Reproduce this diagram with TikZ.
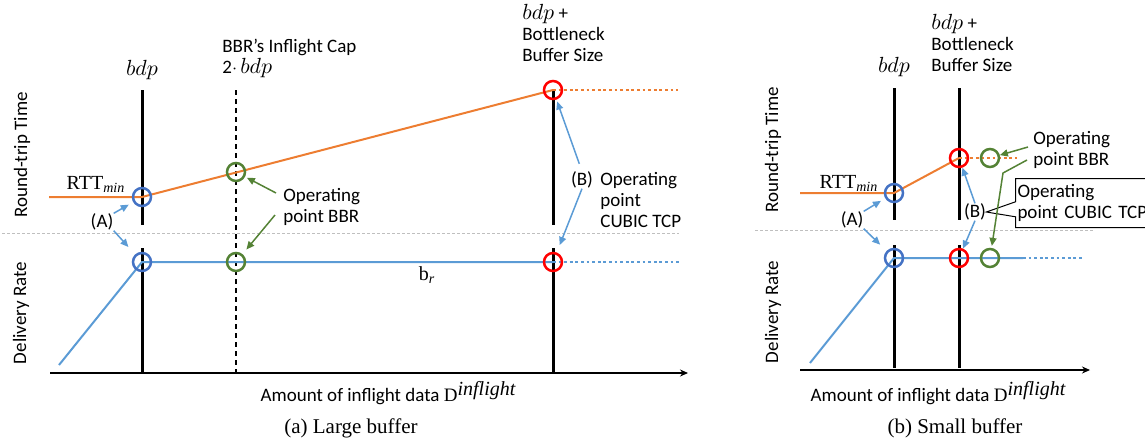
\documentclass[tikz,border=0pt]{standalone}
\usepackage{fontspec}
\setmainfont{Liberation Serif}
\setsansfont{Carlito}
\usetikzlibrary{arrows.meta,shapes.callouts}
\definecolor{rttorange}{HTML}{ED7D31}
\definecolor{rateblue}{HTML}{5B9BD5}
\definecolor{minblue}{HTML}{4472C4}
\definecolor{bbrgreen}{HTML}{548235}
\definecolor{cubicred}{HTML}{FF0000}
\definecolor{guidegray}{HTML}{BFBFBF}
\newcommand{\inflightD}{{\rmfamily D}\raisebox{.6ex}{\rmfamily\itshape\fontsize{10}{12}\selectfont inflight}}
\newcommand{\bdpsym}{{\fontsize{11}{12}\selectfont$bdp$}}
\tikzset{
  guideline/.style={guidegray,line width=0.5pt,dash pattern=on 1.5pt off 1pt},
  xaxis/.style={-{Stealth[length=4pt,width=3.5pt]},line width=0.6pt},
  levelline/.style={line width=1.5pt,black},
  capline/.style={line width=0.7pt,dash pattern=on 2.5pt off 2pt},
  plotline/.style={line width=1pt},
  plottail/.style={line width=1pt,dash pattern=on 1.4pt off 1.4pt},
  opcircle/.style={circle,draw=#1,line width=1.25pt,minimum size=9pt,inner sep=0pt},
  notearrow/.style={-{Triangle[length=4pt,width=3.5pt]},line width=0.75pt,draw=#1},
  lbl/.style={font=\sffamily\fontsize{9.5}{10.5}\selectfont,align=left,inner sep=0pt},
  mathlbl/.style={font=\fontsize{10}{12}\selectfont,inner sep=0pt},
  captiontext/.style={font=\fontsize{10.5}{12}\selectfont,inner sep=0pt}
}
\begin{document}
\begin{tikzpicture}[x=0.5pt,y=-0.5pt]
\useasboundingbox (0,0) rectangle (1145,445);

% (a) large buffer
\draw[guideline] (2,233) -- (679,233);
\draw[xaxis] (50,373) -- (688,373);
\foreach \x in {142,553}
  \draw[levelline] (\x,90) -- (\x,225) (\x,248) -- (\x,372);
\draw[capline] (236,90) -- (236,373);
\draw[plotline,rttorange] (49,197) -- (142,197) -- (553,90);
\draw[plottail,rttorange] (553,90) -- (678,90);
\draw[plotline,rateblue] (59,365) -- (142,262) -- (553,262);
\draw[plottail,rateblue] (553,262) -- (679,262);

\node[opcircle=minblue] (minA) at (142,197) {};
\node[opcircle=bbrgreen] (bbrA) at (236,172) {};
\node[opcircle=cubicred] (cubicA) at (553,90) {};
\node[opcircle=minblue] (fullA) at (142,262) {};
\node[opcircle=bbrgreen] (bbrrateA) at (236,262) {};
\node[opcircle=cubicred] (cubicrateA) at (553,262) {};

\node[lbl,rotate=90] (rttlabA) at (22,155) {Round-trip Time};
\node[lbl,rotate=90] (ratelabA) at (21,313) {Delivery Rate};
\node[mathlbl] (bdpA) at (142,70) {\bdpsym};
\node[lbl,anchor=west] (inflcapA) at (222,58) {BBR’s Inflight Cap\\2$\cdot$\,\bdpsym};
\node[lbl,anchor=west] (bufA) at (522,33) {\bdpsym{} +\\Bottleneck\\Buffer Size};
\node[mathlbl] (rttminA) at (96,184) {RTT$_{\mathit{min}}$};
\node[lbl] (labAA) at (102,222) {(A)};
\node[lbl,anchor=west] (opbbrA) at (283,207) {Operating\\point BBR};
\node[lbl] (labBA) at (582,180) {(B)};
\node[lbl,anchor=west] (opcubicA) at (600,200) {Operating\\point\\CUBIC TCP};
\node[mathlbl] (brA) at (427,275) {b$_{\mathit{r}}$};
\node[lbl] (xlabA) at (388,393) {Amount of inflight data \inflightD};
\node[captiontext] (capA) at (351,428) {(a) Large buffer};

\coordinate (gA1) at (276,193);
\coordinate (gA2) at (275,215);
\draw[notearrow=rateblue,shorten >=2.5pt] (labAA.north east) -- (minA);
\draw[notearrow=rateblue,shorten >=5pt] (labAA.south east) -- (fullA);
\draw[notearrow=bbrgreen,shorten >=1pt] (gA1) -- (bbrA);
\draw[notearrow=bbrgreen,shorten >=3pt] (gA2) -- (bbrrateA);
\draw[notearrow=rateblue,shorten <=4pt,shorten >=1pt] (labBA.north) -- (cubicA);
\draw[notearrow=rateblue,shorten >=4pt] (labBA.south) -- (cubicrateA);

% (b) small buffer
\draw[guideline] (755,230) -- (1093,230);
\draw[xaxis] (800,370) -- (1090,370);
\foreach \x in {894,959}
  \draw[levelline] (\x,88) -- (\x,220) (\x,245) -- (\x,368);
\draw[plotline,rttorange] (800,193) -- (894,193) -- (959,158);
\draw[plottail,rttorange] (959,158) -- (1017,158);
\draw[plotline,rateblue] (810,363) -- (894,258) -- (1023,258);
\draw[plottail,rateblue] (1023,258) -- (1083,258);

\node[opcircle=minblue] (minB) at (894,193) {};
\node[opcircle=cubicred] (cubicB) at (959,158) {};
\node[opcircle=bbrgreen] (bbrB) at (990,158) {};
\node[opcircle=minblue] (fullB) at (894,258) {};
\node[opcircle=cubicred] (cubicrateB) at (959,258) {};
\node[opcircle=bbrgreen] (bbrrateB) at (990,258) {};

\node[lbl,rotate=90] (rttlabB) at (773,150) {Round-trip Time};
\node[lbl,rotate=90] (ratelabB) at (773,312) {Delivery Rate};
\node[mathlbl] (bdpB) at (894,67) {\bdpsym};
\node[lbl,anchor=west] (bufB) at (931,43) {\bdpsym{} +\\Bottleneck\\Buffer Size};
\node[mathlbl] (rttminB) at (849,183) {RTT$_{\mathit{min}}$};
\node[lbl] (labAB) at (852,220) {(A)};
\node[lbl,anchor=west] (opbbrB) at (1033,150) {Operating\\point BBR};
\node[lbl] (labBB) at (975,212) {(B)};
\node[lbl,rectangle callout,draw,line width=0.5pt,text width=66pt,inner xsep=1pt,
  minimum height=24.5pt,anchor=north west,callout absolute pointer={(labBB.east)},
  callout pointer width=7.5pt] (opcubicB) at (1015,178) {Operating\\point CUBIC TCP};
\node[lbl] (xlabB) at (938,393) {Amount of inflight data \inflightD};
\node[captiontext] (capB) at (955,428) {(b) Small buffer};

\coordinate (gB1) at (1028,147);
\coordinate (gB2) at (1027,160);
\coordinate (gB3) at (1003,173);
\draw[notearrow=rateblue,shorten >=2.5pt] (labAB.north east) -- (minB);
\draw[notearrow=rateblue,shorten >=4.5pt] (labAB.south east) -- (fullB);
\draw[notearrow=rateblue] (labBB.north) -- (cubicB);
\draw[notearrow=rateblue] (labBB.south) -- (cubicrateB);
\draw[notearrow=bbrgreen] (gB1) -- (bbrB);
\draw[notearrow=bbrgreen,shorten >=1pt] (gB2) -- (gB3) -- (bbrrateB);
\end{tikzpicture}
\end{document}
